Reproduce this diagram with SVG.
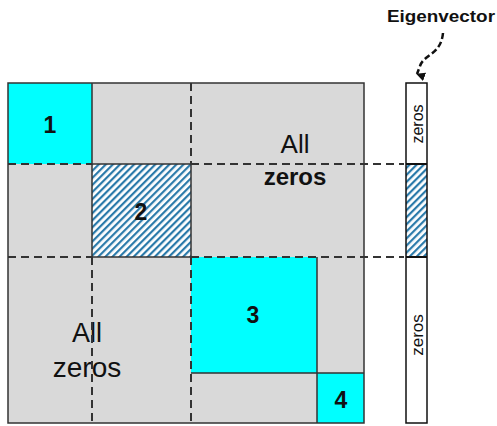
<svg xmlns="http://www.w3.org/2000/svg" width="497" height="426" viewBox="0 0 497 426">
<defs>
<pattern id="hatch" patternUnits="userSpaceOnUse" width="5" height="5" patternTransform="rotate(45)">
<rect width="5" height="5" fill="#ffffff"/>
<rect x="0" y="0" width="2.2" height="5" fill="#2a7aaa"/>
</pattern>
<marker id="ah" viewBox="0 0 10 10" refX="5" refY="9" markerWidth="9" markerHeight="9" markerUnits="userSpaceOnUse" orient="auto-start-reverse">
<path d="M0,0 L10,5 L0,10 Z" fill="#111" transform="rotate(90 5 5)"/>
</marker>
<style>
.cyan{fill:#00ffff;}
.grey{fill:#d9d9d9;}
.solid{stroke:#333;stroke-width:1.5;fill:none;}
.dash{stroke:#333;stroke-width:2;stroke-dasharray:8,5;fill:none;}
.num{font-family:"Liberation Sans",Arial,sans-serif;font-size:23px;font-weight:bold;fill:#111;text-anchor:middle;}
.lbl{font-family:"Liberation Sans",Arial,sans-serif;fill:#111;text-anchor:middle;}
</style>
</defs>
<rect width="497" height="426" fill="#ffffff"/>
<g id="matrix">
<rect x="8" y="83" width="356" height="340" class="grey"/>
</g>
<g id="block1">
<rect x="8" y="83" width="84" height="81" class="cyan"/>
<text x="50" y="133" class="num">1</text>
</g>
<g id="block2">
<rect x="92" y="164" width="99" height="93" fill="url(#hatch)"/>
<text x="141" y="220" class="num" font-size="25">2</text>
</g>
<g id="block3">
<rect x="191" y="257" width="126" height="116" class="cyan"/>
<text x="253" y="323" class="num">3</text>
</g>
<g id="block4">
<rect x="317" y="373" width="47" height="50" class="cyan"/>
<text x="341" y="408" class="num">4</text>
</g>
<g id="allzeros-top">
<text x="295" y="153" class="lbl" font-size="26">All</text>
<text x="295" y="185" class="lbl" font-size="24" font-weight="bold">zeros</text>
</g>
<g id="allzeros-bottom">
<text x="87" y="342" class="lbl" font-size="27">All</text>
<text x="87" y="377" class="lbl" font-size="28">zeros</text>
</g>
<g id="connectors">
<rect x="8" y="83" width="356" height="340" class="solid"/>
<path class="solid" d="M92,83 V257 M92,164 H191 V257 M92,257 H191 M317,257 V423 M191,373 H364"/>
<path class="dash" d="M8,164 H92 M191,83 V164 M191,164 H404 M8,257 H92 M191,257 H404 M92,257 V423 M191,257 V423"/>
<path d="M443,33 C441,55 424,54 420,66 L417,74" stroke="#111" stroke-width="2.5" stroke-dasharray="6,3" fill="none" marker-end="url(#ah)"/>
</g>
<g id="eigenvector">
<rect x="406" y="83" width="21" height="340" fill="#ffffff"/>
<rect x="406" y="164" width="21" height="93" fill="url(#hatch)"/>
<rect x="406" y="83" width="21" height="340" fill="none" stroke="#111" stroke-width="1.5"/>
<path d="M406,164 H427 M406,257 H427" stroke="#111" stroke-width="2"/>
<text transform="translate(423,124) rotate(-90)" class="lbl" font-size="16">zeros</text>
<text transform="translate(423,335) rotate(-90)" class="lbl" font-size="17">zeros</text>
</g>
<g id="label">
<text x="441" y="22" class="lbl" font-size="16" font-weight="bold" textLength="108" lengthAdjust="spacingAndGlyphs">Eigenvector</text>
</g>
</svg>
